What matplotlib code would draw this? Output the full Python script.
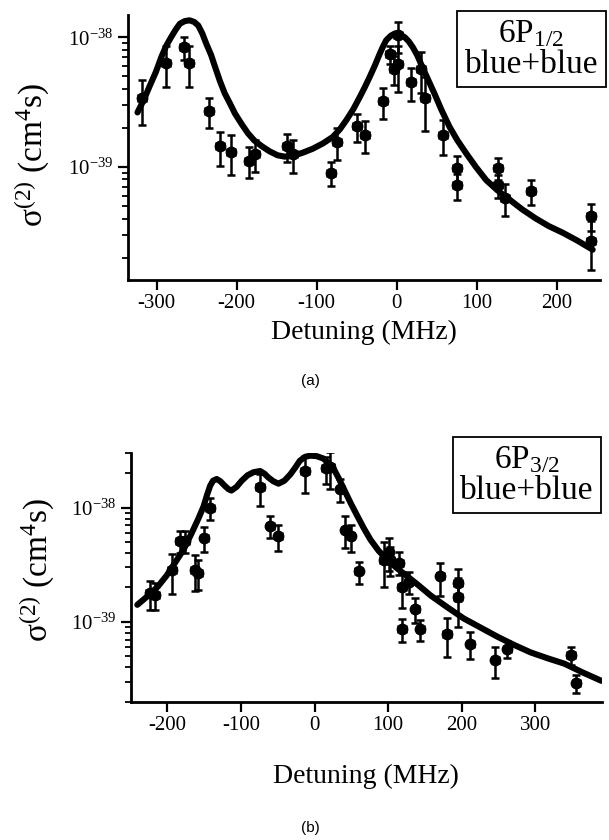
import numpy as np
import matplotlib
matplotlib.use('Agg')
import matplotlib.pyplot as plt
from matplotlib.ticker import LogLocator, NullFormatter, FixedLocator

plt.rcParams['font.family'] = ['Liberation Serif', 'DejaVu Serif']
plt.rcParams['mathtext.fontset'] = 'custom'
plt.rcParams['mathtext.rm'] = 'Liberation Serif'
plt.rcParams['mathtext.it'] = 'Liberation Serif:italic'
plt.rcParams['mathtext.default'] = 'regular'
plt.rcParams['axes.unicode_minus'] = False

# (a) 6P1/2 : data points
det_a = [-318, -288, -266, -259, -234, -221, -207, -184, -177, -137, -130, -82, -74,
         -49, -40, -17, -8, -3, 2, 2, 18, 31, 35, 58, 75, 75, 127, 127, 135, 168, 243, 243]
sig_a = [3.4e-39, 6.3e-39, 8.4e-39, 6.3e-39, 2.7e-39, 1.44e-39, 1.31e-39, 1.12e-39, 1.26e-39,
         1.45e-39, 1.25e-39, 9.0e-40, 1.56e-39, 2.05e-39, 1.77e-39, 3.2e-39, 7.4e-39, 5.7e-39,
         1.04e-38, 6.2e-39, 4.5e-39, 5.7e-39, 3.4e-39, 1.77e-39, 9.8e-40, 7.2e-40, 9.8e-40,
         7.2e-40, 5.8e-40, 6.5e-40, 4.2e-40, 2.7e-40]
err_a = [1.3e-39, 2.2e-39, 1.7e-39, 2.2e-39, 0.7e-39, 0.42e-39, 0.45e-39, 0.3e-39, 0.35e-39,
         0.35e-39, 0.35e-39, 0.19e-39, 0.43e-39, 0.5e-39, 0.5e-39, 0.85e-39, 1.2e-39, 1.4e-39,
         2.8e-39, 2.4e-39, 1.3e-39, 2.0e-39, 1.5e-39, 0.54e-39, 0.23e-39, 0.16e-39, 0.19e-39,
         0.14e-39, 0.16e-39, 0.14e-39, 0.10e-39, 0.11e-39]

# (a) theory curve
curve_det_a = [-324, -316, -309, -301, -294, -288, -282, -276, -271, -265, -259, -253, -248,
               -243, -238, -232, -227, -221, -215, -208, -202, -194, -186, -178, -169, -159,
               -149, -140, -129, -117, -105, -92, -80, -71, -63, -54, -46, -40, -34, -27,
               -21, -17, -13, -7, -2, 4, 10, 15, 20, 26, 32, 40, 47, 56, 66, 76, 87, 99, 112,
               126, 141, 157, 174, 190, 208, 226, 245]
curve_sig_a = [2.63e-39, 3.3e-39, 4.17e-39, 5.4e-39, 7.08e-39, 8.6e-39, 1.0e-38, 1.15e-38,
               1.27e-38, 1.33e-38, 1.35e-38, 1.31e-38, 1.23e-38, 1.07e-38, 8.9e-39, 7.3e-39,
               5.9e-39, 4.6e-39, 3.7e-39, 3.05e-39, 2.57e-39, 2.15e-39, 1.82e-39, 1.6e-39,
               1.45e-39, 1.32e-39, 1.23e-39, 1.2e-39, 1.22e-39, 1.29e-39, 1.38e-39, 1.52e-39,
               1.7e-39, 1.95e-39, 2.29e-39, 2.8e-39, 3.47e-39, 4.1e-39, 4.9e-39, 6.1e-39,
               7.5e-39, 8.5e-39, 9.5e-39, 1.03e-38, 1.07e-38, 1.05e-38, 1.0e-38, 9.3e-39,
               8.4e-39, 7.2e-39, 5.9e-39, 4.6e-39, 3.7e-39, 2.75e-39, 2.04e-39, 1.6e-39,
               1.27e-39, 1.0e-39, 7.9e-40, 6.6e-40, 5.6e-40, 4.7e-40, 4.0e-40, 3.5e-40,
               3.1e-40, 2.7e-40, 2.3e-40]

# (b) 6P3/2 : data points
det_b = [-224, -217, -194, -183, -176, -163, -158, -150, -142, -74, -60, -49, -13, 15, 21,
         35, 42, 49, 60, 94, 101, 103, 115, 119, 119, 128, 137, 144, 171, 180, 195, 195,
         212, 246, 262, 349, 356]
sig_b = [1.78e-39, 1.72e-39, 2.85e-39, 5.1e-39, 5.1e-39, 2.85e-39, 2.7e-39, 5.4e-39, 1.0e-38,
         1.5e-38, 6.9e-39, 5.6e-39, 2.1e-38, 2.2e-38, 2.25e-38, 1.45e-38, 6.4e-39, 5.6e-39,
         2.76e-39, 3.5e-39, 4.1e-39, 3.5e-39, 3.3e-39, 2.03e-39, 8.7e-40, 2.25e-39, 1.3e-39,
         8.6e-40, 2.5e-39, 7.9e-40, 2.2e-39, 1.66e-39, 6.4e-40, 4.6e-40, 5.8e-40, 5.1e-40,
         2.9e-40]
err_b = [0.5e-39, 0.45e-39, 1.1e-39, 1.1e-39, 1.1e-39, 1.0e-39, 0.8e-39, 1.3e-39, 2.2e-39,
         4.7e-39, 1.5e-39, 1.4e-39, 7.5e-39, 6e-39, 8e-39, 3.3e-39, 2.0e-39, 1.5e-39, 0.6e-39,
         1.5e-39, 1.3e-39, 1.0e-39, 0.75e-39, 0.7e-39, 0.2e-39, 0.5e-39, 0.32e-39, 0.18e-39,
         0.8e-39, 0.3e-39, 0.68e-39, 0.75e-39, 0.17e-39, 0.14e-39, 0.1e-39, 0.09e-39, 0.05e-39]

# (b) theory curve
curve_det_b = [-241, -227, -213, -201, -190, -178, -167, -158, -151, -146, -142, -138, -133,
               -128, -122, -117, -113, -106, -99, -91, -83, -74, -68, -63, -56, -49, -41,
               -33, -26, -20, -13, -6, 3, 12, 19, 26, 33, 40, 49, 58, 67, 76, 87, 99, 112,
               126, 141, 158, 180, 203, 226, 249, 271, 294, 317, 340, 365, 390]
curve_sig_b = [1.41e-39, 1.68e-39, 2.04e-39, 2.55e-39, 3.27e-39, 4.3e-39, 6.0e-39, 8.0e-39,
               1.02e-38, 1.3e-38, 1.55e-38, 1.72e-38, 1.78e-38, 1.7e-38, 1.55e-38, 1.45e-38,
               1.41e-38, 1.52e-38, 1.72e-38, 1.92e-38, 2.04e-38, 2.09e-38, 1.98e-38, 1.84e-38,
               1.7e-38, 1.62e-38, 1.72e-38, 1.95e-38, 2.25e-38, 2.57e-38, 2.78e-38, 2.85e-38,
               2.82e-38, 2.69e-38, 2.45e-38, 2.19e-38, 1.8e-38, 1.45e-38, 1.1e-38, 8.5e-39,
               6.6e-39, 5.25e-39, 4.2e-39, 3.5e-39, 2.95e-39, 2.51e-39, 2.1e-39, 1.7e-39,
               1.35e-39, 1.07e-39, 8.9e-40, 7.4e-40, 6.3e-40, 5.4e-40, 4.8e-40, 4.3e-40,
               3.6e-40, 3.05e-40]

xticks_a = [-300, -200, -100, 0, 100, 200]
xticks_b = [-200, -100, 0, 100, 200, 300]
yticks = [1e-39, 1e-38]
yminor = [m * 10.0 ** e for e in (-40, -39, -38) for m in range(2, 10)]

fig = plt.figure(figsize=(6.09, 8.4), dpi=100)
ax1 = fig.add_axes([0.210, 0.667, 0.775, 0.315])
ax2 = fig.add_axes([0.2146, 0.1646, 0.774, 0.296])


def style(ax, xticks, xlim, ylim):
    ax.set_yscale('log')
    ax.set_xlim(*xlim)
    ax.set_ylim(*ylim)
    ax.spines['top'].set_visible(False)
    ax.spines['right'].set_visible(False)
    for s in ['left', 'bottom']:
        ax.spines[s].set_linewidth(2)
    ax.xaxis.set_major_locator(FixedLocator(xticks))
    ax.yaxis.set_major_locator(FixedLocator(yticks))
    ax.yaxis.set_minor_locator(FixedLocator([v for v in yminor if ylim[0] <= v <= ylim[1]]))
    ax.yaxis.set_minor_formatter(NullFormatter())
    ax.tick_params(which='major', direction='out', length=7, width=1.6, labelsize=15)
    ax.tick_params(which='minor', direction='out', length=4, width=1.3)
    ax.set_xlabel('Detuning (MHz)', fontsize=20)
    ax.set_ylabel(r'σ$^{(2)}$ (cm$^4$s)', fontsize=24)


# panel (a)
ax1.plot(curve_det_a, curve_sig_a, color='black', lw=4.4, solid_capstyle='round',
         solid_joinstyle='round', zorder=3)
ax1.errorbar(det_a, sig_a, yerr=err_a, xerr=5, fmt='o', color='black', ms=7.5,
             capsize=3, elinewidth=1.8, capthick=1.8, zorder=4)
style(ax1, xticks_a, (-336, 254), (1.35e-40, 1.48e-38))
ax1.xaxis.set_label_coords(0.5, -0.15)
ax1.yaxis.set_label_coords(-0.16, 0.47)
ax1.text(0.855, 0.872, '6P$_{1/2}$\nblue+blue', transform=ax1.transAxes, fontsize=24,
         ha='center', va='center', linespacing=1.0,
         bbox=dict(boxstyle='square,pad=0.22', fc='white', ec='black', lw=1.3))
fig.text(0.509, 0.546, '(a)', family='Liberation Sans', fontsize=11, ha='center', va='center')

# panel (b)
ax2.plot(curve_det_b, curve_sig_b, color='black', lw=4.4, solid_capstyle='round',
         solid_joinstyle='round', zorder=3)
ax2.errorbar(det_b, sig_b, yerr=err_b, xerr=5, fmt='o', color='black', ms=7.5,
             capsize=3, elinewidth=1.8, capthick=1.8, zorder=4)
style(ax2, xticks_b, (-250, 391), (2e-40, 3e-38))
ax2.xaxis.set_label_coords(0.5, -0.25)
ax2.yaxis.set_label_coords(-0.157, 0.53)
ax2.text(0.84, 0.91, '6P$_{3/2}$\nblue+blue', transform=ax2.transAxes, fontsize=24,
         ha='center', va='center', linespacing=1.0,
         bbox=dict(boxstyle='square,pad=0.22', fc='white', ec='black', lw=1.3))
fig.text(0.509, 0.014, '(b)', family='Liberation Sans', fontsize=11, ha='center', va='center')

fig.savefig('out.png', dpi=100)
